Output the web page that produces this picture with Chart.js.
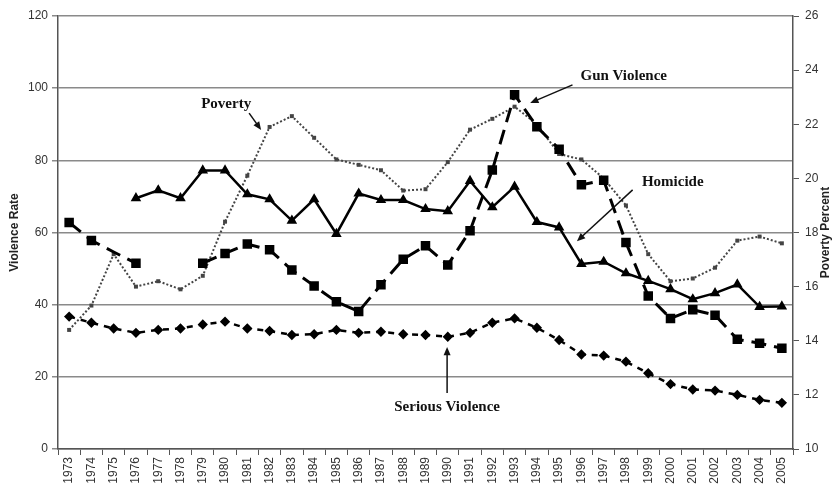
<!DOCTYPE html>
<html>
<head>
<meta charset="utf-8" />
<title>Violence Rate and Poverty</title>
<script src="https://cdn.jsdelivr.net/npm/chart.js@4.4.1/dist/chart.umd.min.js"></script>
<style>
  body { margin: 0; background: #fff; }
  canvas { display: block; }
</style>
</head>
<body>
<canvas id="chart" width="837" height="488"></canvas>
<script>
// data
var years = ['1973','1974','1975','1976','1977','1978','1979','1980','1981','1982','1983',
  '1984','1985','1986','1987','1988','1989','1990','1991','1992','1993','1994','1995',
  '1996','1997','1998','1999','2000','2001','2002','2003','2004','2005'];

var homicide = [null, null, null, 69.5, 71.7, 69.5, 77.2, 77.2, 70.6, 69.2, 63.3,
  69.2, 59.6, 70.8, 69.0, 69.0, 66.5, 65.9, 74.3, 67.0, 72.7, 62.9, 61.4,
  51.3, 51.9, 48.7, 46.6, 44.3, 41.5, 43.2, 45.6, 39.4, 39.5];

var gunViolence = [62.8, 57.8, 54.6, 51.5, null, null, 51.5, 54.2, 56.8, 55.2, 49.6,
  45.2, 40.8, 38.1, 45.5, 52.6, 56.3, 51.0, 60.5, 77.3, 98.2, 89.3, 83.1,
  73.2, 74.5, 57.2, 42.4, 36.2, 38.6, 37.1, 30.4, 29.3, 27.9];

var seriousViolence = [36.7, 35.0, 33.4, 32.2, 33.0, 33.4, 34.5, 35.3, 33.4, 32.7, 31.6,
  31.8, 33.0, 32.2, 32.5, 31.8, 31.6, 31.1, 32.2, 35.0, 36.2, 33.6, 30.2,
  26.2, 25.9, 24.2, 21.0, 18.0, 16.5, 16.2, 15.0, 13.6, 12.8];

var povertyPercent = [14.4, 15.3, 17.2, 16.0, 16.2, 15.9, 16.4, 18.4, 20.1, 21.9, 22.3,
  21.5, 20.7, 20.5, 20.3, 19.55, 19.6, 20.6, 21.8, 22.2, 22.65, 22.0, 20.9,
  20.7, 20.0, 19.0, 17.2, 16.2, 16.3, 16.7, 17.7, 17.85, 17.6];

// callouts: [text, textIdx, textVal, fromIdx, fromVal, toIdx, toVal] on the left axis
var callouts = [
  ['Poverty',          7.05, 95.6,  8.08, 93.1,  8.62, 88.4],
  ['Gun Violence',     24.9, 103.4, 22.6, 100.9, 20.7, 95.9],
  ['Homicide',         27.1, 74.0,  25.3, 71.8,  22.8, 57.6],
  ['Serious Violence', 16.97, 11.6, 16.97, 15.5, 16.97, 28.3]
];

var sans = '"Liberation Sans", Arial, sans-serif';

function arrow(ctx, x1, y1, x2, y2) {
  var a = Math.atan2(y2 - y1, x2 - x1), h = 9;
  ctx.beginPath();
  ctx.moveTo(x1, y1);
  ctx.lineTo(x2 - Math.cos(a) * h * 0.8, y2 - Math.sin(a) * h * 0.8);
  ctx.stroke();
  ctx.beginPath();
  ctx.moveTo(x2, y2);
  ctx.lineTo(x2 - h * Math.cos(a - 0.4), y2 - h * Math.sin(a - 0.4));
  ctx.lineTo(x2 - h * Math.cos(a + 0.4), y2 - h * Math.sin(a + 0.4));
  ctx.closePath();
  ctx.fill();
}

var extras = {
  id: 'extras',
  afterDraw: function(chart) {
    var ctx = chart.ctx, x = chart.scales.x, y = chart.scales.y, area = chart.chartArea;
    ctx.save();
    ctx.fillStyle = '#111';
    ctx.strokeStyle = '#111';
    ctx.lineWidth = 1.5;
    callouts.forEach(function(c) {
      arrow(ctx, x.getPixelForValue(c[3]), y.getPixelForValue(c[4]),
        x.getPixelForValue(c[5]), y.getPixelForValue(c[6]));
      ctx.font = 'bold 15px "Liberation Serif", "Times New Roman", serif';
      ctx.textAlign = 'center';
      ctx.textBaseline = 'middle';
      ctx.fillText(c[0], x.getPixelForValue(c[1]), y.getPixelForValue(c[2]));
    });
    // axis titles, both reading bottom to top
    ctx.font = 'bold 12px ' + sans;
    ctx.fillStyle = '#222';
    var midY = (area.top + area.bottom) / 2;
    ctx.translate(15, midY);
    ctx.rotate(-Math.PI / 2);
    ctx.fillText('Violence Rate', 0, 0);
    ctx.rotate(Math.PI / 2);
    ctx.translate(-15, -midY);
    ctx.translate(826, midY);
    ctx.rotate(-Math.PI / 2);
    ctx.fillText('Poverty Percent', 0, 0);
    ctx.restore();
  }
};

new Chart(document.getElementById('chart'), {
  type: 'line',
  data: {
    labels: years,
    datasets: [
      {
        label: 'Homicide', data: homicide, yAxisID: 'y',
        borderColor: '#000', backgroundColor: '#000', borderWidth: 2.5,
        pointStyle: 'triangle', pointRadius: 3.6, tension: 0
      },
      {
        label: 'Gun Violence', data: gunViolence, yAxisID: 'y',
        borderColor: '#000', backgroundColor: '#000', borderWidth: 3, borderDash: [15, 8],
        pointStyle: 'rect', tension: 0,
        // the 1975 marker sits hidden under the poverty peak
        pointRadius: function(c) { return c.dataIndex === 2 ? 0 : 4.6; }
      },
      {
        label: 'Serious Violence', data: seriousViolence, yAxisID: 'y',
        borderColor: '#000', backgroundColor: '#000', borderWidth: 2.5, borderDash: [6, 6],
        pointStyle: 'rectRot', pointRadius: 3.4, tension: 0
      },
      {
        label: 'Poverty', data: povertyPercent, yAxisID: 'y2',
        borderColor: '#444', backgroundColor: '#333', borderWidth: 2, borderDash: [2, 2],
        pointStyle: 'rect', pointRadius: 1.4, tension: 0
      }
    ]
  },
  options: {
    responsive: false,
    devicePixelRatio: 1,
    animation: false,
    layout: { padding: { top: 16, left: 0, right: 0, bottom: 0 } },
    plugins: { legend: { display: false }, tooltip: { enabled: false } },
    scales: {
      x: {
        offset: true,
        grid: { offset: true, drawOnChartArea: false, tickLength: 6, color: '#555' },
        border: { color: '#555', width: 1.5 },
        ticks: { minRotation: 90, maxRotation: 90, autoSkip: false, padding: 2,
          color: '#333', font: { family: sans, size: 12 } },
        afterFit: function(s) { s.height = 39; }
      },
      y: {
        position: 'left', min: 0, max: 120,
        ticks: { stepSize: 20, padding: 4, color: '#333', font: { family: sans, size: 12 } },
        grid: { color: '#8a8a8a', lineWidth: 1.5, tickLength: 6 },
        border: { color: '#555', width: 1.5 },
        afterFit: function(s) { s.width = 58; }
      },
      y2: {
        position: 'right', min: 10, max: 26,
        ticks: { stepSize: 2, padding: 6, color: '#333', font: { family: sans, size: 12 } },
        grid: { drawOnChartArea: false, tickLength: 6, color: '#555' },
        border: { color: '#555', width: 1.5 },
        afterFit: function(s) { s.width = 44; }
      }
    }
  },
  plugins: [extras]
});
</script>
</body>
</html>
